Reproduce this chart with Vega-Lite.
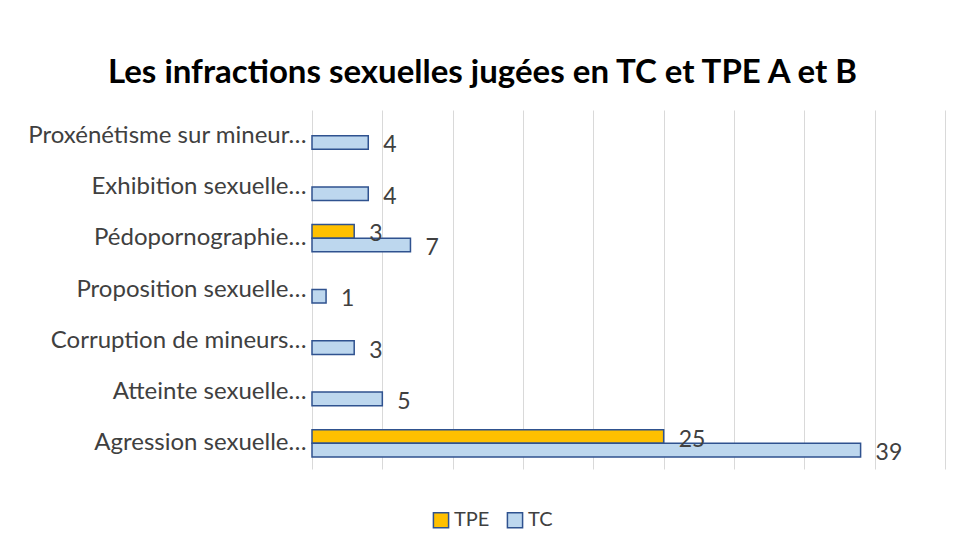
{
  "$schema": "https://vega.github.io/schema/vega-lite/v6.json",
  "width": 633,
  "height": 359,
  "autosize": {"type": "none"},
  "padding": {"left": 312, "top": 110, "right": 16, "bottom": 84},
  "background": "white",
  "title": {
    "text": "Les infractions sexuelles jugées en TC et TPE A et B",
    "font": "Lato",
    "fontSize": 33,
    "fontWeight": "bold",
    "color": "#000000",
    "anchor": "middle",
    "dx": -146,
    "offset": 20
  },
  "data": {
    "values": [
      {"category": "Proxénétisme sur mineur…", "series": "TC", "value": 4},
      {"category": "Exhibition sexuelle…", "series": "TC", "value": 4},
      {"category": "Pédopornographie…", "series": "TPE", "value": 3},
      {"category": "Pédopornographie…", "series": "TC", "value": 7},
      {"category": "Proposition sexuelle…", "series": "TC", "value": 1},
      {"category": "Corruption de mineurs…", "series": "TC", "value": 3},
      {"category": "Atteinte sexuelle…", "series": "TC", "value": 5},
      {"category": "Agression sexuelle…", "series": "TPE", "value": 25},
      {"category": "Agression sexuelle…", "series": "TC", "value": 39}
    ]
  },
  "encoding": {
    "y": {
      "field": "category",
      "type": "nominal",
      "sort": ["Proxénétisme sur mineur…", "Exhibition sexuelle…", "Pédopornographie…", "Proposition sexuelle…", "Corruption de mineurs…", "Atteinte sexuelle…", "Agression sexuelle…"],
      "scale": {"paddingInner": 0.47, "paddingOuter": 0.235},
      "axis": {
        "title": null,
        "domain": false,
        "ticks": false,
        "labelFont": "Lato",
        "labelFontSize": 24,
        "labelColor": "#404040",
        "labelPadding": 6,
        "labelLimit": 320
      }
    },
    "yOffset": {
      "field": "series",
      "type": "nominal",
      "scale": {"domain": ["TPE", "TC"], "paddingInner": 0, "paddingOuter": 0}
    },
    "x": {
      "field": "value",
      "type": "quantitative",
      "scale": {"domain": [0, 45], "nice": false},
      "axis": {
        "title": null,
        "labels": false,
        "ticks": false,
        "domain": false,
        "grid": true,
        "gridColor": "#d9d9d9",
        "gridWidth": 1,
        "values": [0, 5, 10, 15, 20, 25, 30, 35, 40, 45]
      }
    }
  },
  "layer": [
    {
      "mark": {"type": "bar", "stroke": "#2F528F", "strokeWidth": 1.5},
      "encoding": {
        "color": {
          "field": "series",
          "type": "nominal",
          "scale": {"domain": ["TPE", "TC"], "range": ["#FFC000", "#BDD7EE"]},
          "legend": {
            "title": null,
            "orient": "none",
            "direction": "horizontal",
            "legendX": 119,
            "legendY": 400,
            "symbolType": "square",
            "symbolSize": 230,
            "symbolStrokeColor": "#2F528F",
            "symbolStrokeWidth": 1.5,
            "symbolOpacity": 1,
            "labelFont": "Lato",
            "labelFontSize": 20,
            "labelColor": "#404040",
            "labelOffset": 3,
            "columnPadding": 14
          }
        }
      }
    },
    {
      "mark": {"type": "text", "align": "left", "baseline": "middle", "dx": 15, "dy": 3, "font": "Lato", "fontSize": 23, "color": "#404040"},
      "encoding": {"text": {"field": "value", "type": "quantitative"}}
    }
  ],
  "config": {"view": {"stroke": null}}
}
